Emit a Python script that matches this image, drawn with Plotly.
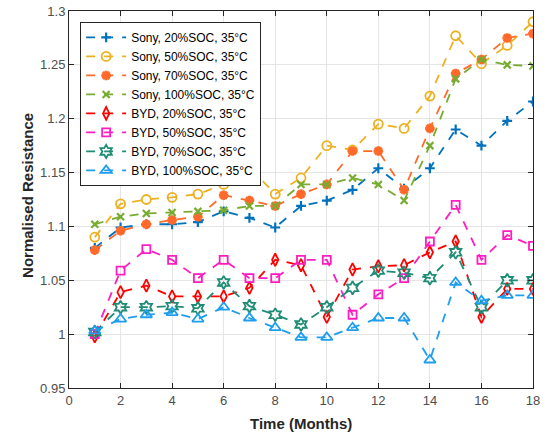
import plotly.graph_objects as go

months = list(range(1, 19))

sony_20 = [1.080, 1.099, 1.102, 1.102, 1.104, 1.114, 1.108, 1.099, 1.119, 1.124,
           1.134, 1.154, 1.135, 1.154, 1.190, 1.175, 1.198, 1.216]
sony_50 = [1.090, 1.121, 1.125, 1.127, 1.130, 1.139, 1.155, 1.130, 1.145, 1.175,
           1.171, 1.195, 1.191, 1.221, 1.277, 1.251, 1.268, 1.290]
sony_70 = [1.078, 1.096, 1.102, 1.106, 1.109, 1.129, 1.124, 1.119, 1.130, 1.139,
           1.170, 1.170, 1.134, 1.191, 1.242, 1.255, 1.275, 1.279]
sony_100 = [1.102, 1.109, 1.112, 1.113, 1.114, 1.115, 1.119, 1.119, 1.139, 1.139,
            1.145, 1.139, 1.124, 1.175, 1.237, 1.255, 1.250, 1.249]
byd_20 = [0.998, 1.039, 1.045, 1.035, 1.035, 1.035, 1.043, 1.069, 1.064, 1.016,
          1.060, 1.063, 1.064, 1.076, 1.086, 1.016, 1.042, 1.042]
byd_50 = [1.000, 1.059, 1.079, 1.069, 1.052, 1.069, 1.052, 1.052, 1.069, 1.069,
          1.018, 1.037, 1.052, 1.086, 1.120, 1.069, 1.092, 1.082]
byd_70 = [1.002, 1.025, 1.025, 1.026, 1.024, 1.048, 1.026, 1.018, 1.009, 1.025,
          1.043, 1.059, 1.057, 1.052, 1.076, 1.025, 1.050, 1.050]
byd_100 = [1.003, 1.014, 1.018, 1.020, 1.014, 1.025, 1.015, 1.006, 0.997, 0.997,
           1.006, 1.015, 1.015, 0.976, 1.048, 1.031, 1.036, 1.036]

names = ["Sony, 20%SOC, 35°C", "Sony, 50%SOC, 35°C", "Sony, 70%SOC, 35°C",
         "Sony, 100%SOC, 35°C", "BYD, 20%SOC, 35°C", "BYD, 50%SOC, 35°C",
         "BYD, 70%SOC, 35°C", "BYD, 100%SOC, 35°C"]
series = [sony_20, sony_50, sony_70, sony_100, byd_20, byd_50, byd_70, byd_100]
colors = ["#0072BD", "#EDB120", "#FF6A2B", "#77AC30",
          "#FF0000", "#FF1CC0", "#1F8C76", "#1E9EF0"]
symbols = ["cross-thin-open", "circle-open", "asterisk-open", "x-thin-open",
           "diamond-tall-open", "square-open", "hexagram-open", "triangle-up-open"]
sizes = [7, 9, 8, 7, 9, 8, 10, 10]
mlw = [2.2, 1.8, 3, 2.2, 1.8, 1.8, 1.8, 1.8]

x_title = "Time (Months)"
y_title = "Normalised Resistance"

fig = go.Figure()
for name, ys, c, s, sz, w in zip(names, series, colors, symbols, sizes, mlw):
    fig.add_trace(go.Scatter(
        x=months, y=ys, name=name, mode="lines+markers",
        line=dict(color=c, width=1.8, dash="dash"),
        marker=dict(symbol=s, size=sz, color=c, line=dict(color=c, width=w)),
    ))

axis_common = dict(
    showline=True, linecolor="#262626", linewidth=1, mirror="allticks",
    ticks="inside", ticklen=5, tickcolor="#262626", automargin=False,
    showgrid=True, gridcolor="#E5E5E5", gridwidth=1, zeroline=False,
    tickfont=dict(family="Liberation Sans, Arial", size=13, color="#4D4D4D"),
)

fig.update_layout(
    width=550, height=436,
    margin=dict(l=69, r=17, t=11, b=48),
    paper_bgcolor="white", plot_bgcolor="white",
    font=dict(family="Liberation Sans, Arial", size=12, color="#262626"),
    xaxis=dict(range=[0, 18], dtick=2, tick0=0, **axis_common),
    yaxis=dict(range=[0.95, 1.3], dtick=0.05, tick0=0.95, **axis_common),
    legend=dict(x=0.024, y=0.971, xanchor="left", yanchor="top",
                bgcolor="white", bordercolor="#262626", borderwidth=1,
                font=dict(size=12, color="#000000"), itemwidth=40,
                tracegroupgap=0),
    showlegend=True,
    annotations=[
        dict(text="<b>" + x_title + "</b>", xref="paper", yref="paper",
             x=0.5, y=-0.094, xanchor="center", yanchor="middle",
             showarrow=False, font=dict(size=15, color="#262626")),
        dict(text="<b>" + y_title + "</b>", xref="paper", yref="paper",
             x=-0.088, y=0.51, xanchor="center", yanchor="middle",
             textangle=-90, showarrow=False,
             font=dict(size=15, color="#262626")),
    ],
)

fig.write_html("out.html", config={"displayModeBar": False},
               post_script="document.body.style.margin='0';document.body.style.overflow='hidden';")
